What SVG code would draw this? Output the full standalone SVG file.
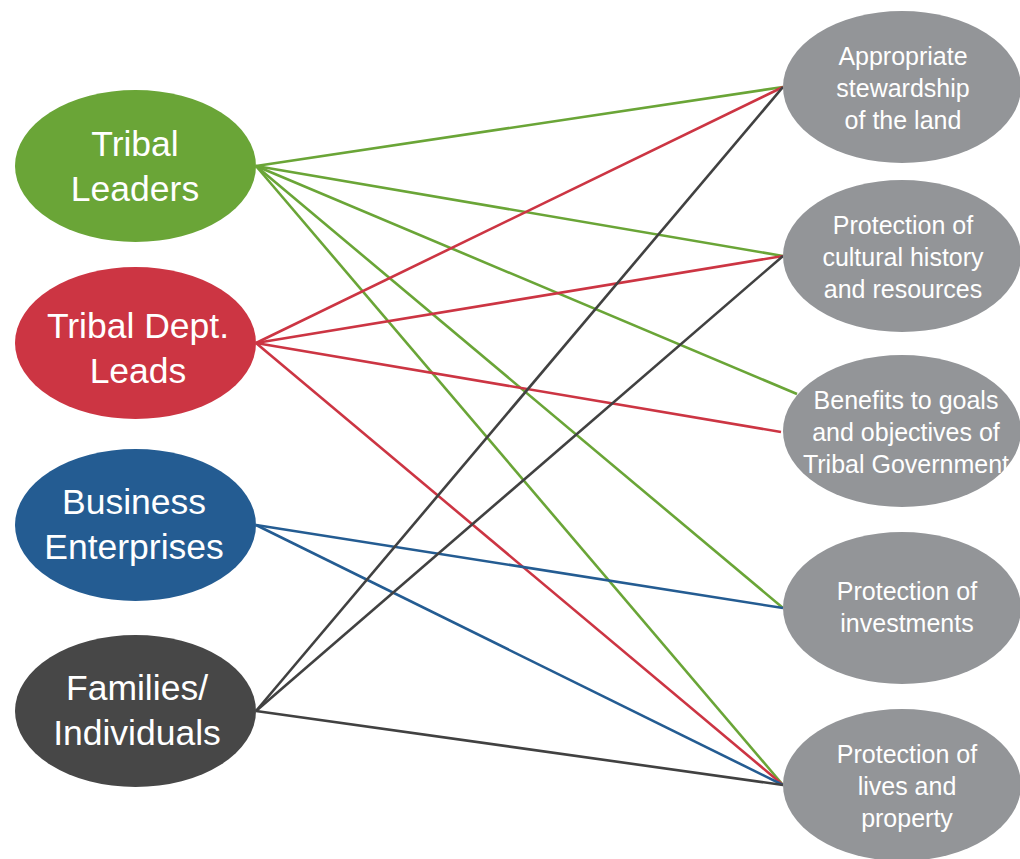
<svg xmlns="http://www.w3.org/2000/svg" width="1020" height="859" viewBox="0 0 1020 859">
<style>
.c{fill:none;stroke-width:2.6}
.g{stroke:#6aa537}.r{stroke:#cc3543}.b{stroke:#245c92}.k{stroke:#414141}
.lt{font-family:"Liberation Sans",Arial,sans-serif;font-size:35.5px;fill:#fff;text-anchor:middle}
.rt{font-family:"Liberation Sans",Arial,sans-serif;font-size:25px;fill:#fff;text-anchor:middle}
.gr{fill:#939598}
</style>
<rect width="1020" height="859" fill="#fff"/>
<g id="connectors">
<line class="c g" x1="256" y1="166" x2="783" y2="87"/>
<line class="c g" x1="256" y1="166" x2="783" y2="256"/>
<line class="c g" x1="256" y1="166" x2="797" y2="394"/>
<line class="c g" x1="256" y1="166" x2="783" y2="608"/>
<line class="c g" x1="256" y1="166" x2="783" y2="785"/>
<line class="c r" x1="256" y1="343" x2="783" y2="87"/>
<line class="c r" x1="256" y1="343" x2="783" y2="256"/>
<line class="c r" x1="256" y1="343" x2="781" y2="432"/>
<line class="c r" x1="256" y1="343" x2="783" y2="785"/>
<line class="c b" x1="256" y1="525" x2="783" y2="608"/>
<line class="c b" x1="256" y1="525" x2="783" y2="785"/>
<line class="c k" x1="256" y1="711" x2="783" y2="87"/>
<line class="c k" x1="256" y1="711" x2="783" y2="256"/>
<line class="c k" x1="256" y1="711" x2="783" y2="785"/>
</g>
<g id="tribal-leaders"><ellipse cx="135.5" cy="166" rx="120.5" ry="76" fill="#6aa537"/><text class="lt" x="135" y="156">Tribal</text><text class="lt" x="135" y="201">Leaders</text></g>
<g id="tribal-dept-leads"><ellipse cx="135.5" cy="343" rx="120.5" ry="76" fill="#cc3543"/><text class="lt" x="138" y="338">Tribal Dept.</text><text class="lt" x="138" y="383">Leads</text></g>
<g id="business-enterprises"><ellipse cx="135.5" cy="525" rx="120.5" ry="76" fill="#245c92"/><text class="lt" x="134" y="514">Business</text><text class="lt" x="134" y="559">Enterprises</text></g>
<g id="families-individuals"><ellipse cx="135.5" cy="711" rx="120.5" ry="76" fill="#474747"/><text class="lt" x="137" y="700">Families/</text><text class="lt" x="137" y="745">Individuals</text></g>
<g id="stewardship"><ellipse class="gr" cx="902" cy="87" rx="119" ry="76"/><text class="rt" x="903" y="65">Appropriate</text><text class="rt" x="903" y="97">stewardship</text><text class="rt" x="903" y="129">of the land</text></g>
<g id="cultural"><ellipse class="gr" cx="902" cy="256" rx="119" ry="76"/><text class="rt" x="903" y="234">Protection of</text><text class="rt" x="903" y="266">cultural history</text><text class="rt" x="903" y="298">and resources</text></g>
<g id="benefits"><ellipse class="gr" cx="902" cy="431" rx="119" ry="76"/><text class="rt" x="906" y="409">Benefits to goals</text><text class="rt" x="906" y="441">and objectives of</text><text class="rt" x="906" y="473">Tribal Government</text></g>
<g id="investments"><ellipse class="gr" cx="902" cy="608" rx="119" ry="76"/><text class="rt" x="907" y="600">Protection of</text><text class="rt" x="907" y="632">investments</text></g>
<g id="lives"><ellipse class="gr" cx="902" cy="785" rx="119" ry="76"/><text class="rt" x="907" y="763">Protection of</text><text class="rt" x="907" y="795">lives and</text><text class="rt" x="907" y="827">property</text></g>
</svg>
